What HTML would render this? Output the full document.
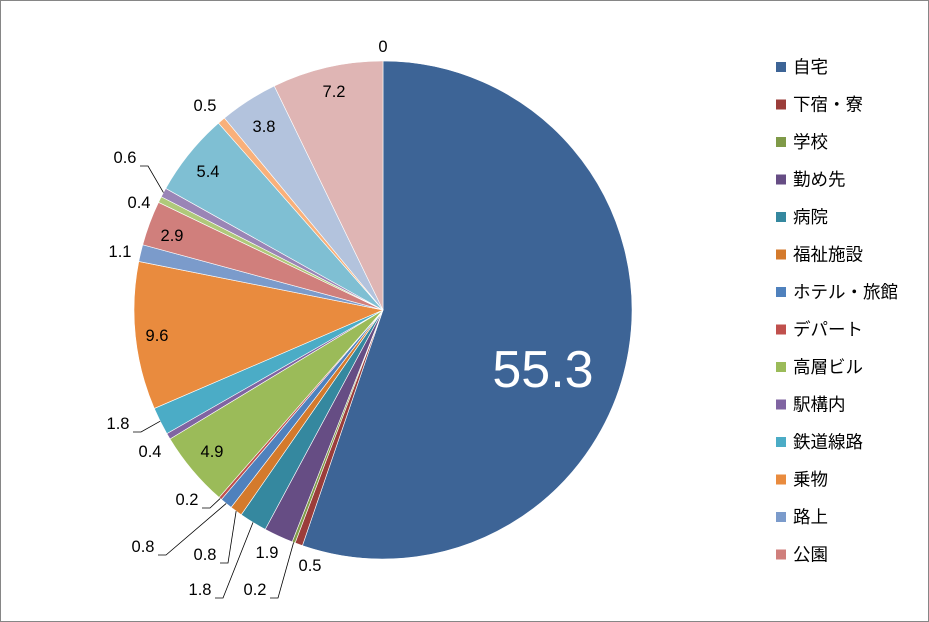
<!DOCTYPE html>
<html><head><meta charset="utf-8">
<style>
body{margin:0;background:#fff;}
#wrap{position:relative;width:929px;height:622px;overflow:hidden;}
svg text{font-family:"Liberation Sans","Noto Sans CJK JP",sans-serif;}
</style></head>
<body>
<div id="wrap">
<svg id="chart" width="929" height="622">
<rect x="0.5" y="0.5" width="928" height="621" fill="#fff" stroke="#868686"/>
<g id="slices"></g><g id="labels"></g><g id="legend"></g>
</svg>
</div>
<script>
const values = [55.3,0.5,0.2,1.9,1.8,0.8,0.8,0.2,4.9,0.4,1.8,9.6,1.1,2.9,0.4,0.6,5.4,0.5,3.8,7.2,0];
const labelText = ["55.3","0.5","0.2","1.9","1.8","0.8","0.8","0.2","4.9","0.4","1.8","9.6","1.1","2.9","0.4","0.6","5.4","0.5","3.8","7.2","0"];
const legendNames = ["自宅","下宿・寮","学校","勤め先","病院","福祉施設","ホテル・旅館","デパート","高層ビル","駅構内","鉄道線路","乗物","路上","公園"];
const colors = ["#3D6496","#9B3D3A","#7F9A48","#664D84","#35889F","#D47A2C","#4F81BD","#C0504D","#9BBB59","#8064A2","#4BACC6","#E98B3E","#7B9BCB","#D07F7C","#AFC97A","#9A85B6","#7FBFD3","#F9B07A","#B3C3DD","#DFB5B4","#F2DCDB"];
// label layout: [x, y, hasLeader] (layout, not data)
const labelLayout = [[543,370,0],[310,566,0],[255,590,1],[267,553,0],[200,590,1],[205,555,1],[143,547,1],[187,500,1],[212,452,0],[150,452,0],[118,424,1],[157,336,0],[120,252,0],[172,236,0],[139,203,0],[125,158,1],[208,172,0],[205,106,0],[264,127,0],[334,92,0],[383,47,0]];

const NS="http://www.w3.org/2000/svg";
const cx=383, cy=310, R=249;
const total=values.reduce((a,b)=>a+b,0);
function pt(a,r){return [cx+r*Math.sin(a), cy-r*Math.cos(a)];}
const gS=document.getElementById('slices'), gL=document.getElementById('labels'), gG=document.getElementById('legend');
let acc=0;
values.forEach((v,i)=>{
  const a0=acc/total*2*Math.PI; acc+=v; const a1=acc/total*2*Math.PI;
  const mid=(a0+a1)/2;
  if(v>0){
    const p0=pt(a0,R), p1=pt(a1,R);
    const path=document.createElementNS(NS,'path');
    path.setAttribute('d',`M${cx},${cy}L${p0[0]},${p0[1]}A${R},${R} 0 ${(a1-a0)>Math.PI?1:0} 1 ${p1[0]},${p1[1]}Z`);
    path.setAttribute('fill',colors[i]);
    path.setAttribute('stroke','#fff');
    path.setAttribute('stroke-width','0.6');
    
    
    gS.appendChild(path);
  }
  const L=labelLayout[i];
  const t=document.createElementNS(NS,'text');
  t.setAttribute('x',L[0]); t.setAttribute('y',L[1]);
  t.setAttribute('text-anchor','middle'); t.setAttribute('dominant-baseline','central');
  t.setAttribute('font-size', i===0?'52':'16.5');
  t.setAttribute('fill', i===0?'#fff':'#000');
  t.textContent=labelText[i];
  
  
  gL.appendChild(t);
  if(L[2]){
    const e=pt(mid,R);
    const x1=L[0]+15, x2=L[0]+23, y=L[1]+8;
    const pl=document.createElementNS(NS,'polyline');
    pl.setAttribute('points',`${x1},${y} ${x2},${y} ${e[0]},${e[1]}`);
    pl.setAttribute('fill','none'); pl.setAttribute('stroke','#000'); pl.setAttribute('stroke-width','0.8');
    
    
    gL.appendChild(pl);
  }
});
legendNames.forEach((n,i)=>{
  const y=67+i*37.5;
  const r=document.createElementNS(NS,'rect');
  r.setAttribute('x',776); r.setAttribute('y',y-5); r.setAttribute('width',10); r.setAttribute('height',10);
  r.setAttribute('fill',colors[i]);
  
  
  gG.appendChild(r);
  const t=document.createElementNS(NS,'text');
  t.setAttribute('x',793); t.setAttribute('y',y); t.setAttribute('dominant-baseline','central');
  t.setAttribute('font-size','17.5'); t.setAttribute('fill','#000');
  t.textContent=n;
  
  
  gG.appendChild(t);
});
</script>
</body></html>
